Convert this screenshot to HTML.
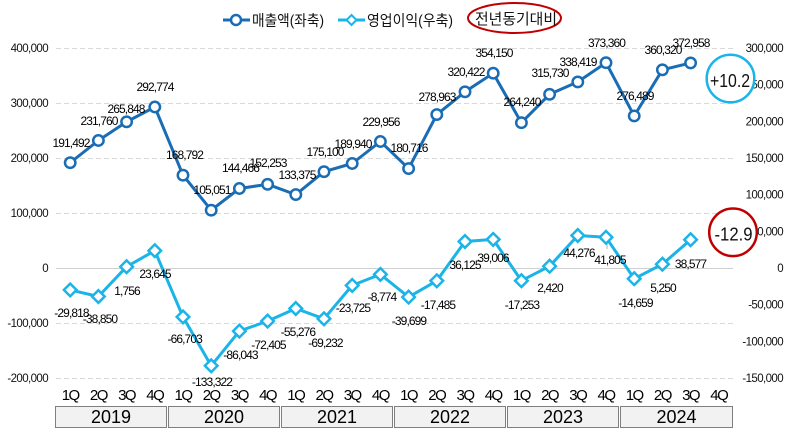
<!DOCTYPE html>
<html><head><meta charset="utf-8"><style>
html,body{margin:0;padding:0;background:#fff;}
svg{display:block;}
text{font-family:"Liberation Sans","Noto Sans CJK KR",sans-serif;}
.t{font-size:11.5px;fill:#111;letter-spacing:-0.6px;}
.d{font-size:12px;fill:#000;letter-spacing:-0.9px;text-anchor:middle;}
.q{font-size:15px;fill:#000;letter-spacing:-1.5px;text-anchor:middle;}
.y{font-size:18px;fill:#000;text-anchor:middle;}
</style></head><body>
<svg width="787" height="439" viewBox="0 0 787 439" xmlns="http://www.w3.org/2000/svg">
<rect width="787" height="439" fill="#fff"/>
<g stroke="#d9d9d9" stroke-width="1" stroke-dasharray="5,3">
<line x1="56" y1="48.5" x2="733" y2="48.5"/>
<line x1="56" y1="103.5" x2="733" y2="103.5"/>
<line x1="56" y1="158.5" x2="733" y2="158.5"/>
<line x1="56" y1="213.5" x2="733" y2="213.5"/>
<line x1="56" y1="323.5" x2="733" y2="323.5"/>
<line x1="56" y1="378.5" x2="733" y2="378.5"/>
</g>
<line x1="56" y1="268.5" x2="733" y2="268.5" stroke="#d0d0d0" stroke-width="1"/>
<g class="t" text-anchor="end">
<text x="48" y="52">400,000</text>
<text x="48" y="107">300,000</text>
<text x="48" y="162">200,000</text>
<text x="48" y="217">100,000</text>
<text x="48" y="272">0</text>
<text x="48" y="327">-100,000</text>
<text x="48" y="382">-200,000</text>
</g>
<g class="t" text-anchor="end">
<text x="783" y="52">300,000</text>
<text x="783" y="88.7">250,000</text>
<text x="783" y="125.3">200,000</text>
<text x="783" y="162">150,000</text>
<text x="783" y="198.7">100,000</text>
<text x="783" y="235.3">50,000</text>
<text x="783" y="272">0</text>
<text x="783" y="308.7">-50,000</text>
<text x="783" y="345.3">-100,000</text>
<text x="783" y="382">-150,000</text>
</g>
<polyline fill="none" stroke="#1a6db5" stroke-width="3" stroke-linejoin="round"
points="70.2,162.7 98.4,140.5 126.6,121.8 154.8,107.0 183.0,175.2 211.2,210.2 239.4,188.5 267.6,184.3 295.8,194.6 324.0,171.7 352.2,163.5 380.4,141.5 408.6,168.6 436.8,114.6 465.0,91.8 493.2,73.2 521.4,122.7 549.6,94.3 577.8,81.9 606.0,62.7 634.2,115.9 662.4,69.8 690.6,62.9"/>
<g fill="#fff" stroke="#1a6db5" stroke-width="2.5">
<circle cx="70.2" cy="162.7" r="5.2"/><circle cx="98.4" cy="140.5" r="5.2"/><circle cx="126.6" cy="121.8" r="5.2"/><circle cx="154.8" cy="107.0" r="5.2"/>
<circle cx="183.0" cy="175.2" r="5.2"/><circle cx="211.2" cy="210.2" r="5.2"/><circle cx="239.4" cy="188.5" r="5.2"/><circle cx="267.6" cy="184.3" r="5.2"/>
<circle cx="295.8" cy="194.6" r="5.2"/><circle cx="324.0" cy="171.7" r="5.2"/><circle cx="352.2" cy="163.5" r="5.2"/><circle cx="380.4" cy="141.5" r="5.2"/>
<circle cx="408.6" cy="168.6" r="5.2"/><circle cx="436.8" cy="114.6" r="5.2"/><circle cx="465.0" cy="91.8" r="5.2"/><circle cx="493.2" cy="73.2" r="5.2"/>
<circle cx="521.4" cy="122.7" r="5.2"/><circle cx="549.6" cy="94.3" r="5.2"/><circle cx="577.8" cy="81.9" r="5.2"/><circle cx="606.0" cy="62.7" r="5.2"/>
<circle cx="634.2" cy="115.9" r="5.2"/><circle cx="662.4" cy="69.8" r="5.2"/><circle cx="690.6" cy="62.9" r="5.2"/>
</g>
<polyline fill="none" stroke="#1ab4e8" stroke-width="3" stroke-linejoin="round"
points="70.2,289.9 98.4,296.5 126.6,266.7 154.8,250.7 183.0,316.9 211.2,365.8 239.4,331.1 267.6,321.1 295.8,308.5 324.0,318.8 352.2,285.4 380.4,274.4 408.6,297.1 436.8,280.8 465.0,241.5 493.2,239.4 521.4,280.7 549.6,266.2 577.8,235.5 606.0,237.3 634.2,278.7 662.4,264.2 690.6,239.7"/>
<g stroke="#b0b0b0" stroke-width="1">
<line x1="493.5" y1="238" x2="493.5" y2="245"/>
<line x1="607" y1="238" x2="607" y2="249"/>
</g>
<g fill="#fff" stroke="#1ab4e8" stroke-width="2.5">
<path d="M70.2,283.6 l6.3,6.3 l-6.3,6.3 l-6.3,-6.3z"/>
<path d="M98.4,290.2 l6.3,6.3 l-6.3,6.3 l-6.3,-6.3z"/>
<path d="M126.6,260.4 l6.3,6.3 l-6.3,6.3 l-6.3,-6.3z"/>
<path d="M154.8,244.4 l6.3,6.3 l-6.3,6.3 l-6.3,-6.3z"/>
<path d="M183.0,310.6 l6.3,6.3 l-6.3,6.3 l-6.3,-6.3z"/>
<path d="M211.2,359.5 l6.3,6.3 l-6.3,6.3 l-6.3,-6.3z"/>
<path d="M239.4,324.8 l6.3,6.3 l-6.3,6.3 l-6.3,-6.3z"/>
<path d="M267.6,314.8 l6.3,6.3 l-6.3,6.3 l-6.3,-6.3z"/>
<path d="M295.8,302.2 l6.3,6.3 l-6.3,6.3 l-6.3,-6.3z"/>
<path d="M324.0,312.5 l6.3,6.3 l-6.3,6.3 l-6.3,-6.3z"/>
<path d="M352.2,279.1 l6.3,6.3 l-6.3,6.3 l-6.3,-6.3z"/>
<path d="M380.4,268.1 l6.3,6.3 l-6.3,6.3 l-6.3,-6.3z"/>
<path d="M408.6,290.8 l6.3,6.3 l-6.3,6.3 l-6.3,-6.3z"/>
<path d="M436.8,274.5 l6.3,6.3 l-6.3,6.3 l-6.3,-6.3z"/>
<path d="M465.0,235.2 l6.3,6.3 l-6.3,6.3 l-6.3,-6.3z"/>
<path d="M493.2,233.1 l6.3,6.3 l-6.3,6.3 l-6.3,-6.3z"/>
<path d="M521.4,274.4 l6.3,6.3 l-6.3,6.3 l-6.3,-6.3z"/>
<path d="M549.6,259.9 l6.3,6.3 l-6.3,6.3 l-6.3,-6.3z"/>
<path d="M577.8,229.2 l6.3,6.3 l-6.3,6.3 l-6.3,-6.3z"/>
<path d="M606.0,231.0 l6.3,6.3 l-6.3,6.3 l-6.3,-6.3z"/>
<path d="M634.2,272.4 l6.3,6.3 l-6.3,6.3 l-6.3,-6.3z"/>
<path d="M662.4,257.9 l6.3,6.3 l-6.3,6.3 l-6.3,-6.3z"/>
<path d="M690.6,233.4 l6.3,6.3 l-6.3,6.3 l-6.3,-6.3z"/>
</g>
<g class="d">
<text x="71" y="147">191,492</text>
<text x="99" y="125">231,760</text>
<text x="126" y="113">265,848</text>
<text x="155" y="91">292,774</text>
<text x="184.5" y="159">168,792</text>
<text x="212" y="194">105,051</text>
<text x="240.5" y="172">144,466</text>
<text x="268" y="167">152,253</text>
<text x="297" y="179">133,375</text>
<text x="325" y="156">175,100</text>
<text x="353" y="148">189,940</text>
<text x="381" y="126">229,956</text>
<text x="409" y="152">180,716</text>
<text x="437" y="101">278,963</text>
<text x="466" y="76">320,422</text>
<text x="494" y="57">354,150</text>
<text x="522" y="106">264,240</text>
<text x="550" y="77">315,730</text>
<text x="578" y="66">338,419</text>
<text x="606.5" y="47">373,360</text>
<text x="635" y="100">276,489</text>
<text x="663" y="54">360,320</text>
<text x="691" y="47">372,958</text>
</g>
<g class="d">
<text x="71.5" y="317">-29,818</text>
<text x="100" y="323">-38,850</text>
<text x="127" y="295">1,756</text>
<text x="155" y="278">23,645</text>
<text x="184.7" y="343">-66,703</text>
<text x="212" y="386">-133,322</text>
<text x="240.5" y="359">-86,043</text>
<text x="268.5" y="349">-72,405</text>
<text x="298" y="336">-55,276</text>
<text x="325.5" y="347">-69,232</text>
<text x="353" y="312">-23,725</text>
<text x="382" y="301">-8,774</text>
<text x="409" y="325">-39,699</text>
<text x="438" y="309">-17,485</text>
<text x="465" y="269">36,125</text>
<text x="493" y="262">39,006</text>
<text x="522" y="309">-17,253</text>
<text x="550" y="292">2,420</text>
<text x="579" y="257">44,276</text>
<text x="610" y="264">41,805</text>
<text x="635.5" y="307">-14,659</text>
<text x="663" y="292">5,250</text>
<text x="690.5" y="268">38,577</text>
</g>
<g class="q">
<text x="70.2" y="400">1Q</text><text x="98.4" y="400">2Q</text><text x="126.6" y="400">3Q</text><text x="154.8" y="400">4Q</text>
<text x="183.0" y="400">1Q</text><text x="211.2" y="400">2Q</text><text x="239.4" y="400">3Q</text><text x="267.6" y="400">4Q</text>
<text x="295.8" y="400">1Q</text><text x="324.0" y="400">2Q</text><text x="352.2" y="400">3Q</text><text x="380.4" y="400">4Q</text>
<text x="408.6" y="400">1Q</text><text x="436.8" y="400">2Q</text><text x="465.0" y="400">3Q</text><text x="493.2" y="400">4Q</text>
<text x="521.4" y="400">1Q</text><text x="549.6" y="400">2Q</text><text x="577.8" y="400">3Q</text><text x="606.0" y="400">4Q</text>
<text x="634.2" y="400">1Q</text><text x="662.4" y="400">2Q</text><text x="690.6" y="400">3Q</text><text x="718.8" y="400">4Q</text>
</g>
<g fill="#f2f2f2" stroke="#7f7f7f" stroke-width="1">
<rect x="55.5" y="406.5" width="111" height="21"/>
<rect x="168.5" y="406.5" width="111" height="21"/>
<rect x="281.5" y="406.5" width="111" height="21"/>
<rect x="394.5" y="406.5" width="111" height="21"/>
<rect x="507.5" y="406.5" width="111" height="21"/>
<rect x="620.5" y="406.5" width="112" height="21"/>
</g>
<g class="y">
<text x="111" y="423">2019</text>
<text x="224" y="423">2020</text>
<text x="337" y="423">2021</text>
<text x="450" y="423">2022</text>
<text x="563" y="423">2023</text>
<text x="676.5" y="423">2024</text>
</g>
<line x1="223" y1="20" x2="250" y2="20" stroke="#1a6db5" stroke-width="3"/>
<circle cx="236" cy="20" r="5" fill="#fff" stroke="#1a6db5" stroke-width="2.5"/>
<text x="252" y="25.5" font-size="15" fill="#111" textLength="72" lengthAdjust="spacingAndGlyphs">매출액(좌축)</text>
<line x1="338" y1="20" x2="365" y2="20" stroke="#1ab4e8" stroke-width="3"/>
<path d="M351.5,15 l5,5 l-5,5 l-5,-5z" fill="#fff" stroke="#1ab4e8" stroke-width="2"/>
<text x="367" y="25.5" font-size="15" fill="#111" textLength="86" lengthAdjust="spacingAndGlyphs">영업이익(우축)</text>
<ellipse cx="514.5" cy="18" rx="46.5" ry="15" fill="none" stroke="#c00000" stroke-width="2"/>
<text x="475" y="24" font-size="15" fill="#111" textLength="82" lengthAdjust="spacingAndGlyphs">전년동기대비</text>
<circle cx="730.5" cy="78.5" r="23.8" fill="#fff" stroke="#1ab4e8" stroke-width="2.5"/>
<text x="710" y="87" font-size="18" fill="#111" textLength="40" lengthAdjust="spacingAndGlyphs">+10.2</text>
<circle cx="733" cy="232.3" r="23.8" fill="#fff" stroke="#c00000" stroke-width="2.5"/>
<text x="714.5" y="240.5" font-size="18" fill="#111" textLength="38" lengthAdjust="spacingAndGlyphs">-12.9</text>
</svg>
</body></html>
